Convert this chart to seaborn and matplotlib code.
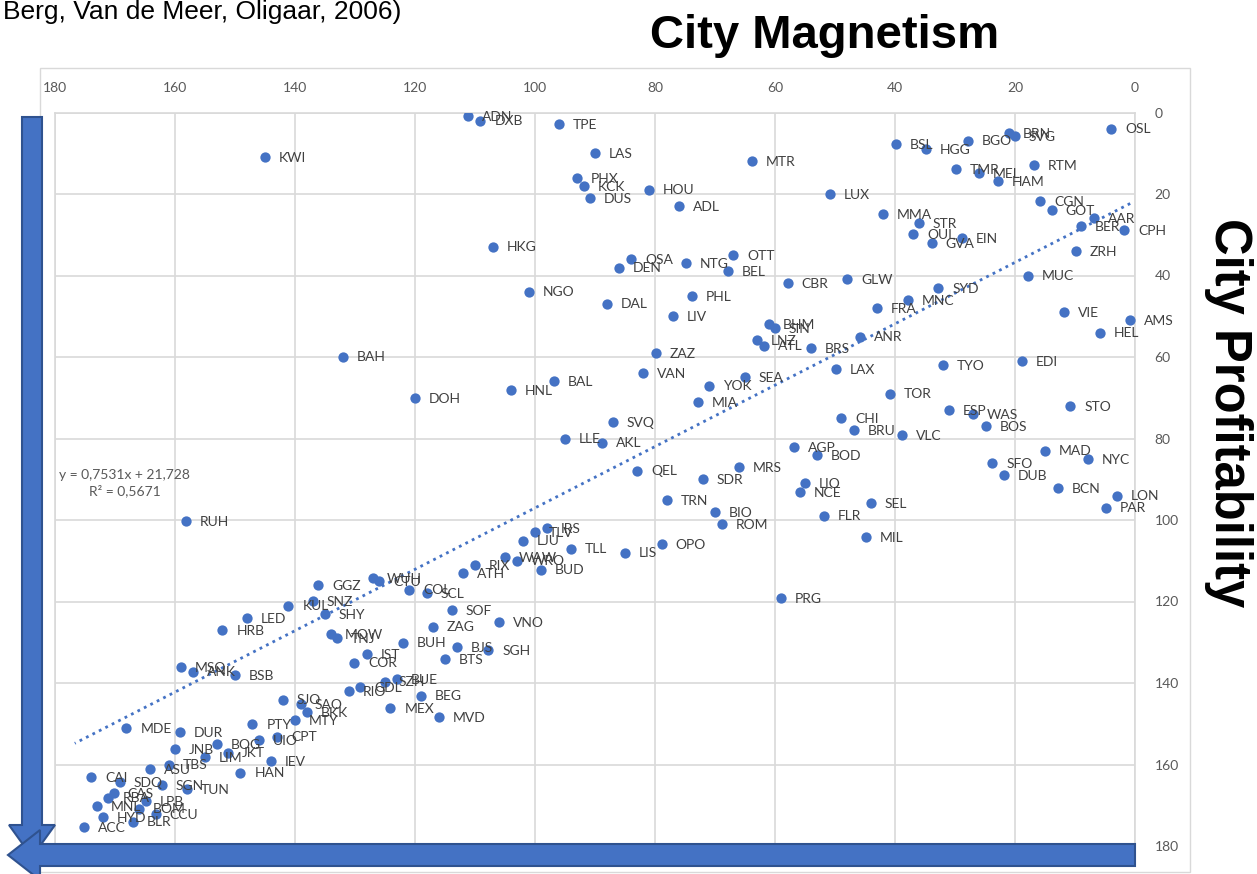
import numpy as np
import pandas as pd
import seaborn as sns
import matplotlib.pyplot as plt
from matplotlib.patches import FancyArrow, Rectangle
from matplotlib.transforms import Affine2D

# city codes with magnetism (x, reversed axis) and profitability (y, inverted axis)
cities = [
    "ADN", "DXB", "TPE", "LAS", "PHX", "KCK", "DUS", "HKG", "NGO", "BAH",
    "KWI", "MTR", "HOU", "ADL", "LUX", "OSA", "DEN", "NTG", "OTT", "BEL",
    "CBR", "GLW", "DAL", "PHL", "LIV", "ZAZ", "BHM", "SIN", "LNZ", "ATL",
    "BRS", "ANR", "FRA", "MMA", "BSL", "HGG", "BGO", "BRN", "SVG", "OSL",
    "TMR", "MEL", "HAM", "RTM", "CGN", "GOT", "AAR", "BER", "CPH", "ZRH",
    "STR", "OUL", "GVA", "EIN", "MUC", "SYD", "MNC", "VIE", "AMS", "HEL",
    "EDI", "TYO", "TOR", "ESP", "WAS", "BOS", "STO", "VLC", "MAD", "NYC",
    "SFO", "DUB", "BCN", "LON", "PAR", "SEL", "MIL", "LAX", "CHI", "BRU",
    "AGP", "BOD", "MRS", "LIO", "NCE", "FLR", "SEA", "YOK", "MIA", "VAN",
    "SVQ", "AKL", "LLE", "QEL", "SDR", "TRN", "BIO", "ROM", "OPO", "LIS",
    "PRG", "HNL", "BAL", "DOH", "RUH", "TLV", "IRS", "LJU", "TLL", "WAW",
    "WRO", "BUD", "RIX", "ATH", "WUH", "CTU", "COL", "SCL", "GGZ", "KUL",
    "SNZ", "SHY", "LED", "HRB", "MOW", "TNJ", "BUH", "IST", "COR", "SOF",
    "ZAG", "VNO", "BJS", "SGH", "BTS", "BUE", "SZH", "GDL", "RIO", "BEG",
    "MEX", "MVD", "SJO", "SAO", "BKK", "MTY", "PTY", "UIO", "CPT", "MDE",
    "DUR", "JNB", "BOG", "JKT", "LIM", "HAN", "IEV", "ASU", "TBS", "CAI",
    "SDQ", "SGN", "TUN", "CAS", "RBA", "MNL", "LPB", "BOM", "CCU", "HYD",
    "BLR", "ACC", "MSQ", "ANK", "BSB",
]
magnetism = [
    111.2, 109.1, 96.0, 90.0, 93.0, 91.9, 90.9, 107.0, 101.0, 132.0,
    145.0, 63.9, 81.0, 76.0, 50.9, 84.0, 86.0, 74.9, 67.0, 67.9,
    57.9, 48.0, 88.0, 73.9, 77.0, 79.9, 61.0, 60.0, 63.0, 61.9,
    54.0, 45.9, 43.0, 42.0, 39.9, 34.9, 27.9, 21.0, 20.0, 4.0,
    29.8, 26.0, 22.9, 16.9, 15.8, 13.9, 6.9, 9.0, 1.8, 9.8,
    36.0, 37.0, 33.9, 28.9, 17.9, 32.8, 37.9, 11.9, 0.8, 5.9,
    18.8, 32.0, 40.8, 31.0, 27.0, 24.9, 10.8, 38.8, 15.0, 7.9,
    23.8, 21.8, 12.8, 3.0, 4.8, 44.0, 44.9, 49.8, 49.0, 46.9,
    56.9, 53.0, 66.0, 55.0, 55.8, 51.9, 65.0, 71.0, 72.9, 82.0,
    87.0, 88.8, 95.0, 83.0, 72.0, 78.0, 70.0, 68.9, 78.9, 85.0,
    59.0, 104.0, 96.9, 120.0, 158.2, 100.0, 98.0, 102.0, 94.0, 105.0,
    103.0, 99.0, 110.0, 112.0, 127.0, 126.0, 121.0, 118.0, 136.1, 141.1,
    137.0, 135.0, 148.0, 152.1, 134.0, 133.0, 122.0, 128.0, 130.1, 113.9,
    117.0, 106.0, 113.0, 107.8, 115.0, 123.0, 125.0, 129.1, 131.0, 119.0,
    124.1, 116.0, 142.0, 139.0, 138.0, 140.0, 147.1, 146.0, 143.0, 168.1,
    159.2, 160.0, 153.0, 151.1, 155.0, 149.1, 144.0, 164.1, 161.0, 174.0,
    169.2, 162.2, 158.0, 170.2, 171.1, 173.0, 164.8, 166.0, 163.2, 172.0,
    167.0, 175.1, 159.0, 157.0, 150.0,
]
profitability = [
    0.9, 2.0, 2.9, 10.0, 16.1, 18.0, 21.1, 32.9, 44.0, 59.9,
    11.0, 11.9, 18.9, 22.9, 20.0, 36.0, 38.1, 37.0, 35.0, 39.0,
    41.9, 40.9, 46.9, 45.0, 50.0, 59.1, 51.9, 53.0, 55.9, 57.2,
    57.9, 55.0, 48.0, 24.9, 7.8, 9.0, 6.9, 5.0, 5.8, 4.0,
    13.9, 14.9, 16.9, 13.0, 21.8, 24.0, 26.0, 27.9, 28.9, 34.0,
    27.1, 29.9, 32.1, 30.9, 40.0, 43.1, 46.0, 49.0, 51.0, 54.0,
    61.0, 62.0, 69.0, 73.1, 74.0, 77.0, 72.0, 79.1, 83.0, 85.1,
    86.1, 89.0, 92.1, 94.0, 97.0, 95.9, 104.2, 62.9, 75.0, 78.0,
    82.2, 84.1, 87.1, 91.0, 93.1, 98.9, 65.0, 67.0, 71.1, 64.0,
    76.0, 81.0, 80.0, 87.9, 90.0, 95.1, 98.1, 101.0, 106.0, 108.0,
    119.1, 68.1, 66.0, 70.1, 100.2, 103.0, 102.0, 105.1, 107.0, 109.2,
    110.0, 112.2, 111.1, 113.0, 114.2, 115.0, 117.1, 118.0, 116.0, 121.0,
    119.9, 123.1, 124.1, 127.1, 128.0, 129.0, 130.1, 133.0, 135.0, 122.2,
    126.2, 125.1, 131.2, 131.9, 134.2, 139.1, 139.7, 141.1, 142.0, 143.1,
    146.1, 148.3, 144.1, 145.2, 147.2, 149.1, 150.1, 154.0, 153.2, 151.0,
    152.1, 156.2, 155.0, 157.1, 158.2, 162.0, 159.2, 161.2, 160.0, 163.1,
    164.3, 165.0, 166.1, 167.1, 168.1, 170.3, 169.0, 170.8, 172.1, 173.0,
    174.0, 175.3, 136.1, 137.2, 138.0,
]
ticks = list(range(0, 181, 20))

# Excel trendline shown on the chart
slope = 0.7531
intercept = 21.728
r_squared = 0.5671
trend_x = [0.8, 176.7]

df = pd.DataFrame({"city": cities, "magnetism": magnetism,
                   "profitability": profitability})

sns.set_style("white")
plt.rcParams["font.family"] = ["Lato", "DejaVu Sans"]

W, H = 1257, 874
fig = plt.figure(figsize=(W / 100, H / 100), dpi=100)
pix = Affine2D().scale(1 / W, -1 / H).translate(0, 1) + fig.transFigure

# outer chart border
fig.add_artist(Rectangle((40, 68), 1150, 804, transform=pix, fill=False,
                         edgecolor="#D9D9D9", linewidth=1))

ax = fig.add_axes([55 / W, 28 / H, 1080 / W, 733.5 / H])
blue = "#4472C4"

sns.scatterplot(data=df, x="magnetism", y="profitability", color=blue,
                s=55, linewidth=0, ax=ax, zorder=3)

for _, r in df.iterrows():
    ax.annotate(r["city"], (r["magnetism"], r["profitability"]),
                xytext=(10, -0.5), textcoords="offset points",
                ha="left", va="center", fontsize=10, color="#404040",
                zorder=4)

# trendline
xs = np.array(trend_x)
ax.plot(xs, slope * xs + intercept, color=blue, linestyle=(0, (1, 1.6)),
        linewidth=2, zorder=2)
ax.text(168.4, 91, f"y = {slope:.4f}x + {intercept:.3f}\nR² = {r_squared:.4f}".replace(".", ","),
        ha="center", va="center", fontsize=10, color="#595959",
        linespacing=1.35, zorder=4)

ax.set_xlim(180, 0)
ax.set_ylim(180, 0)
ax.set_xticks(ticks)
ax.set_yticks(ticks)
ax.xaxis.tick_top()
ax.yaxis.tick_right()
ax.tick_params(axis="x", length=0, pad=13, labelsize=10, labelcolor="#595959")
ax.tick_params(axis="y", length=0, pad=14, labelsize=10, labelcolor="#595959")
ax.set_xlabel("")
ax.set_ylabel("")
ax.grid(True, color="#D9D9D9", linewidth=1.2)
ax.set_axisbelow(True)
for s in ax.spines.values():
    s.set_color("#D9D9D9")
    s.set_linewidth(1.2)

# decorative arrows
arrow_kw = dict(transform=pix, facecolor=blue, edgecolor="#2F528F",
                linewidth=1.5, length_includes_head=True)
fig.add_artist(FancyArrow(32, 117, 0, 740, width=20, head_width=46,
                          head_length=32, **arrow_kw))
fig.add_artist(FancyArrow(1135, 855, -1127, 0, width=22, head_width=50,
                          head_length=32, **arrow_kw))

fig.text(825 / W, 1 - 48 / H, "City Magnetism", ha="center", va="baseline",
         fontsize=34, fontweight="bold", family="Liberation Sans",
         color="black")
fig.text(1229 / W, 1 - 413 / H, "City Profitability", rotation=-90,
         ha="center", va="center", fontsize=36.5, fontweight="bold",
         family="Liberation Sans", color="black")
fig.text(0.002, 1 - 19 / H, "Berg, Van de Meer, Oligaar, 2006)", ha="left",
         va="baseline", fontsize=19, family="Liberation Sans", color="black")

fig.savefig("out.png", dpi=100)
